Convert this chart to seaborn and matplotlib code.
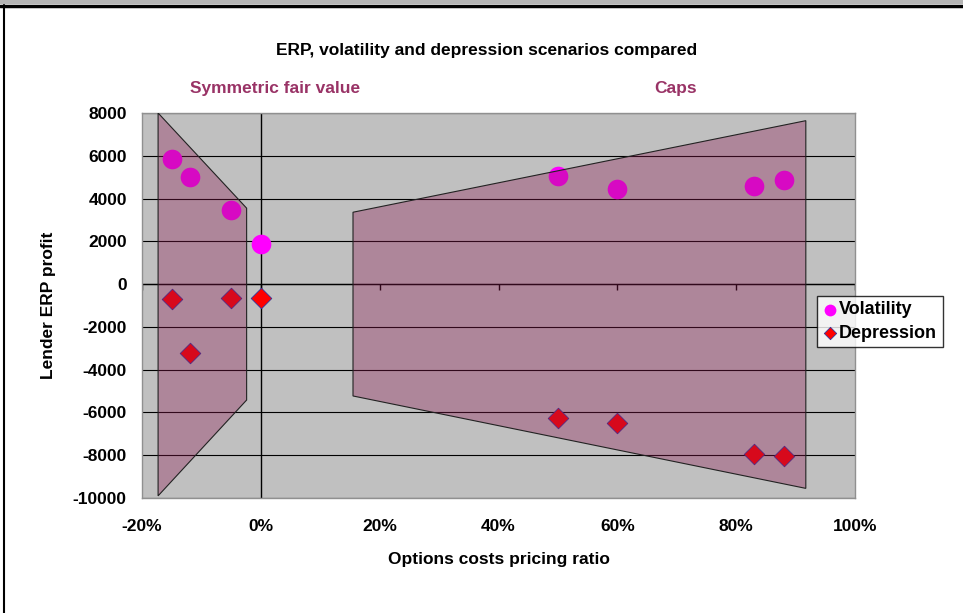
import matplotlib
matplotlib.use("Agg")
import matplotlib.pyplot as plt
import seaborn as sns
import pandas as pd
from matplotlib.colors import to_rgba
from matplotlib.lines import Line2D
from matplotlib.patches import Rectangle
from matplotlib.ticker import FuncFormatter

# Scenario points
ratio = [-0.15, -0.12, -0.05, 0.0, 0.50, 0.60, 0.83, 0.88]
volatility = [5850, 5000, 3450, 1870, 5050, 4450, 4580, 4860]
depression = [-680, -3220, -650, -650, -6260, -6490, -7940, -8040]

# Shaded regions (x ratio, profit)
fair_x = [-0.173, -0.024, -0.024, -0.173]
fair_y = [8000, 3550, -5420, -9900]
caps_x = [0.155, 0.917, 0.917, 0.155]
caps_y = [3360, 7640, -9550, -5230]

x_ticks = [-0.2, 0.0, 0.2, 0.4, 0.6, 0.8, 1.0]
y_ticks = list(range(-10000, 8001, 2000))

sns.set_theme(style="white")
plt.rcParams["font.family"] = ["Liberation Sans", "DejaVu Sans"]
plt.rcParams["font.weight"] = "bold"
plt.rcParams["axes.unicode_minus"] = False
plt.rcParams["text.color"] = "black"
plt.rcParams["axes.labelcolor"] = "black"
plt.rcParams["xtick.color"] = "black"
plt.rcParams["ytick.color"] = "black"

df = pd.DataFrame({"ratio": ratio, "Volatility": volatility, "Depression": depression})

fig = plt.figure(figsize=(9.63, 6.13), dpi=100)
ax = fig.add_axes([0.1475, 0.1876, 0.7405, 0.6281])
ax.set_facecolor("#C0C0C0")

sns.scatterplot(data=df, x="ratio", y="Volatility", ax=ax, color="#FF00FF",
                marker="o", s=200, linewidth=0, label="Volatility", zorder=3)
sns.scatterplot(data=df, x="ratio", y="Depression", ax=ax, color="#FF0000",
                marker="D", s=110, edgecolor="#333399", linewidth=0.6,
                label="Depression", zorder=3)

shade = to_rgba("#8F1A53", 0.35)
ax.fill(fair_x, fair_y, facecolor=shade, edgecolor="#222222", linewidth=0.8, zorder=4)
ax.fill(caps_x, caps_y, facecolor=shade, edgecolor="#222222", linewidth=0.8, zorder=4)

ax.set_xlim(-0.2, 1.0)
ax.set_ylim(-10000, 8000)
ax.set_xticks(x_ticks)
ax.set_yticks(y_ticks)
ax.xaxis.set_major_formatter(FuncFormatter(lambda v, _: f"{v * 100:.0f}%"))
ax.tick_params(axis="x", length=0, pad=15, labelsize=12.5)
ax.tick_params(axis="y", length=0, pad=11, labelsize=12.5)
for lbl in ax.get_xticklabels() + ax.get_yticklabels():
    lbl.set_fontweight("bold")

ax.grid(axis="y", color="#000000", linewidth=0.8, zorder=1)
ax.set_axisbelow(True)
ax.axhline(0, color="#000000", linewidth=1.0, zorder=2)
ax.axvline(0, color="#000000", linewidth=1.0, zorder=2)
ax.vlines(x_ticks, -280, 0, color="#000000", linewidth=1.0, zorder=2)
for s in ax.spines.values():
    s.set_color("#909090")
    s.set_linewidth(1.0)

ax.set_xlabel("Options costs pricing ratio", fontsize=12.5, fontweight="bold", labelpad=13)
ax.set_ylabel("Lender ERP profit", fontsize=12.5, fontweight="bold", labelpad=12)

leg = ax.legend(loc="upper left", bbox_to_anchor=(0.946, 0.525), frameon=True,
                fontsize=13, handletextpad=0.05, borderpad=0.3, labelspacing=0.35,
                handlelength=0.9, fancybox=False, borderaxespad=0, markerscale=0.6)
leg.get_frame().set_edgecolor("#000000")
leg.get_frame().set_linewidth(1.0)
for t in leg.get_texts():
    t.set_fontweight("bold")

fig.text(0.5055, 0.918, "ERP, volatility and depression scenarios compared",
         ha="center", va="center", fontsize=12.5, fontweight="bold")
fig.text(0.286, 0.856, "Symmetric fair value", ha="center", va="center",
         fontsize=12.5, fontweight="bold", color="#993366")
fig.text(0.701, 0.856, "Caps", ha="center", va="center",
         fontsize=12.5, fontweight="bold", color="#993366")

# outer frame like the source screenshot
fig.add_artist(Rectangle((0, 1 - 4 / 613), 1, 4 / 613, transform=fig.transFigure,
                         facecolor="#B4B4B4", edgecolor="none"))
fig.add_artist(Line2D([0, 1], [1 - 5.5 / 613] * 2, transform=fig.transFigure,
                      color="#000000", linewidth=2.5))
fig.add_artist(Line2D([4 / 963] * 2, [0, 1 - 5 / 613], transform=fig.transFigure,
                      color="#000000", linewidth=1.5))

fig.savefig("out.png", dpi=100)
